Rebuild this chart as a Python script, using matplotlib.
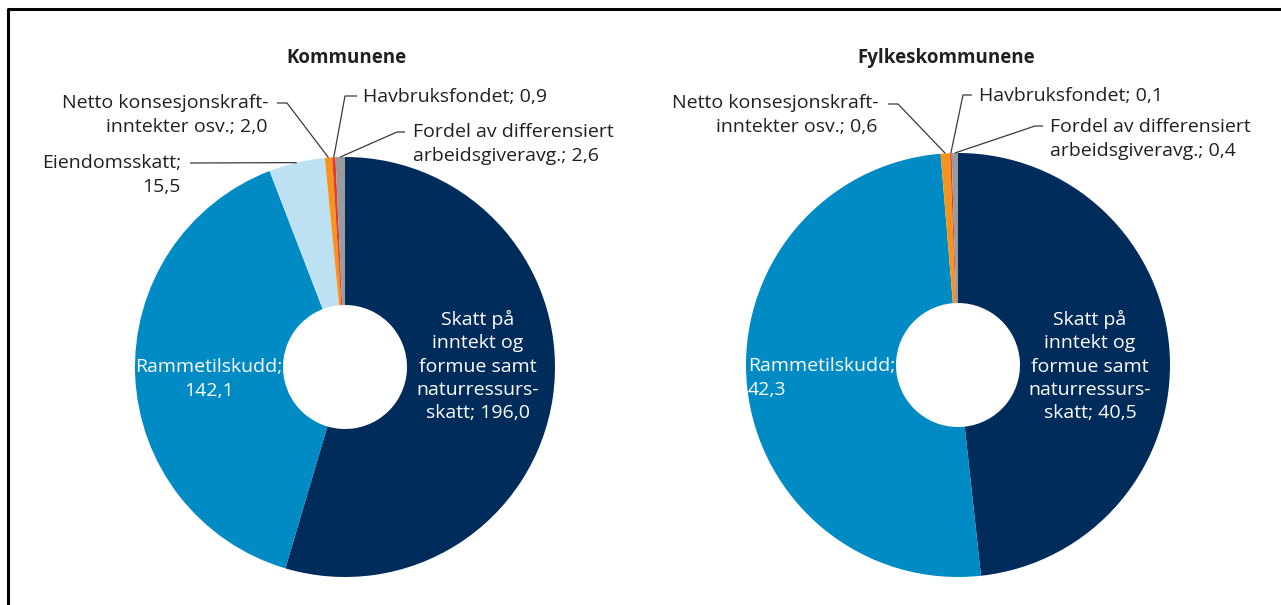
import matplotlib.pyplot as plt
import numpy as np

plt.rcParams['font.family'] = ['Open Sans', 'DejaVu Sans']

# Data (mrd. kroner)
names = ["Skatt på\ninntekt og\nformue samt\nnaturressurs-\nskatt",
         "Rammetilskudd",
         "Eiendomsskatt",
         "Netto konsesjonskraft-\ninntekter osv.",
         "Havbruksfondet",
         "Fordel av differensiert\narbeidsgiveravg."]
seps = ["; ", ";\n", ";\n", "; ", "; ", "; "]
kommune_vals = [196.0, 142.1, 15.5, 2.0, 0.9, 2.6]
fylke_vals = [40.5, 42.3, 0.0, 0.6, 0.1, 0.4]
titles = ["Kommunene", "Fylkeskommunene"]

colors = ["#002c5c", "#008bc4", "#bee0f3", "#f7941d", "#e53b2c", "#9a9b9e"]

W, H = 1281, 605
fig = plt.figure(figsize=(W / 100, H / 100), dpi=100)
ax = fig.add_axes([0, 0, 1, 1])
ax.set_xlim(0, W)
ax.set_ylim(0, H)
ax.set_aspect('equal')
ax.axis('off')


def Y(y):
    # image pixel row -> data y
    return H - y


def fmt(v):
    return f"{v:.1f}".replace('.', ',')


# layout for each pie: centre, radius, label placements
# label spec: (x, y, ha, colour, leader knee points or None)
layouts = [
    dict(center=(345, 367), r=210, hole=62, title_x=346,
         labels={0: (478, 366, 'center', 'white', None),
                 1: (209, 379, 'center', 'white', None),
                 2: (181, 175, 'right', '#231f20', [(190, 163)]),
                 3: (268, 115, 'right', '#231f20', [(277, 103), (287, 103)]),
                 4: (363, 97, 'left', '#231f20', [(357, 96), (345, 96)]),
                 5: (413, 144, 'left', '#231f20', [(405, 132), (397, 132)])}),
    dict(center=(958, 365), r=212, hole=62, title_x=946,
         labels={0: (1090, 366, 'center', 'white', None),
                 1: (748, 378, 'left', 'white', None),
                 3: (878, 115, 'right', '#231f20', [(888, 104), (898, 104)]),
                 4: (979, 96, 'left', '#231f20', [(972, 95), (963, 95)]),
                 5: (1050, 139, 'left', '#231f20', [(1043, 126), (1035, 126)])}),
]

for vals, title, lay in zip([kommune_vals, fylke_vals], titles, layouts):
    cx, cy = lay['center']
    r = lay['r']
    wedges, _ = ax.pie(vals, colors=colors, startangle=90, counterclock=False,
                       center=(cx, Y(cy)), radius=r, frame=True,
                       wedgeprops=dict(width=r - lay['hole'], linewidth=0))
    ax.text(lay['title_x'], Y(58), title, ha='center', va='center',
            fontsize=13.5, fontweight='bold', color='#231f20')
    for i, (tx, ty, ha, col, knees) in lay['labels'].items():
        label = names[i] + seps[i] + fmt(vals[i])
        ax.text(tx, Y(ty), label, ha=ha, va='center', multialignment=ha,
                fontsize=14, color=col, linespacing=1.36)
        if knees:
            w = wedges[i]
            th = np.deg2rad((w.theta1 + w.theta2) / 2)
            ex = cx + r * np.cos(th)
            ey = Y(cy) + r * np.sin(th)
            xs = [k[0] for k in knees] + [ex]
            ys = [Y(k[1]) for k in knees] + [ey]
            ax.plot(xs, ys, color='#3a3a3a', lw=0.9, solid_capstyle='butt')

ax.set_xlim(0, W)
ax.set_ylim(0, H)

# frame
ax.plot([8, 8, W], [0, Y(9), Y(9)], color='black', lw=2.2, clip_on=False)

fig.savefig('out.png', dpi=100)
